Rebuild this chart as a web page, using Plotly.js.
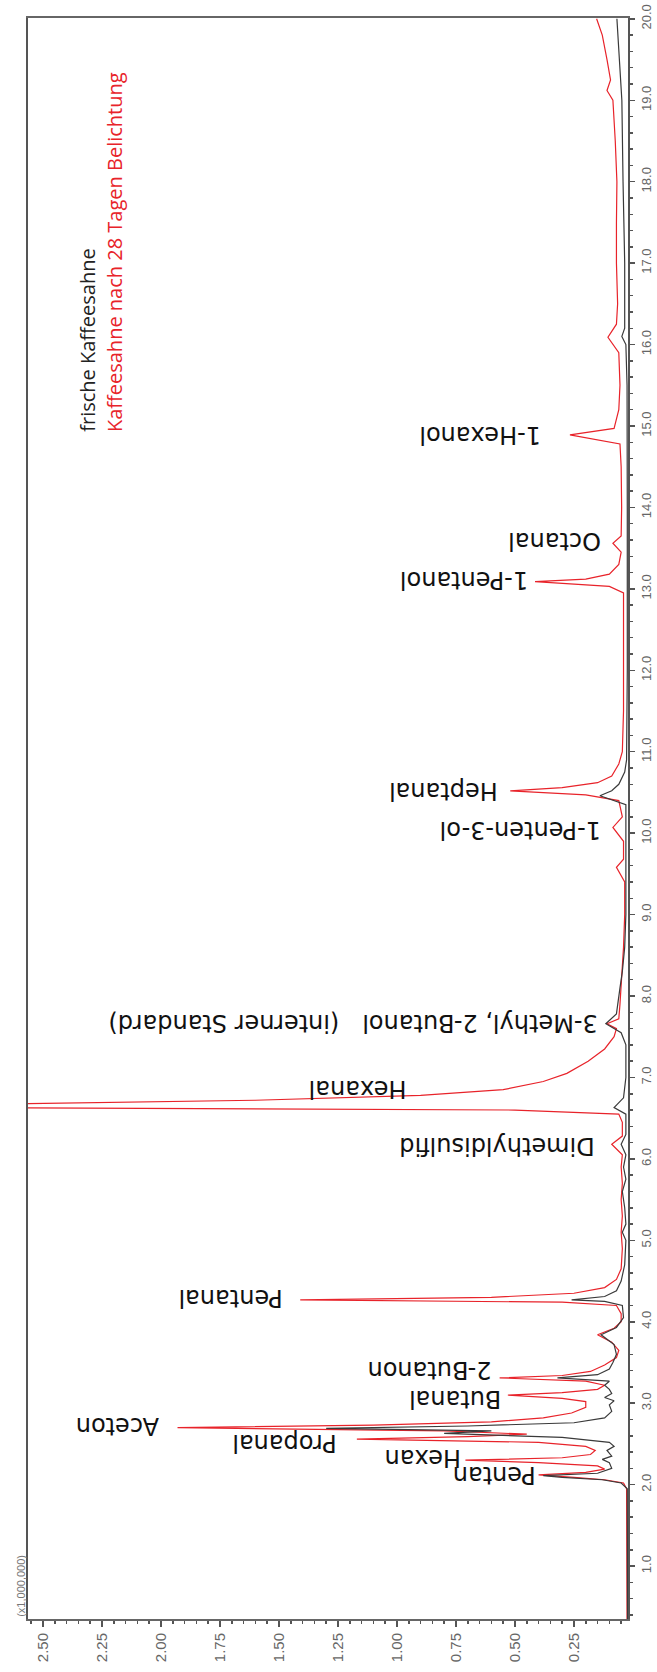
<!DOCTYPE html>
<html>
<head>
<meta charset="utf-8">
<script src="https://cdn.plot.ly/plotly-3.0.1.min.js"></script>
<style>
  html, body { margin: 0; padding: 0; background: #fff; }
  #chart { width: 657px; height: 1672px; }
</style>
</head>
<body>
<div id="chart"></div>
<script>
// GC chromatogram, read off the (rotated) picture
// time in min, signal in x1,000,000 counts

// frische Kaffeesahne (black)
var timeFresh = [0.35, 1.0, 1.95, 2.02, 2.06, 2.09, 2.11, 2.14, 2.2, 2.27, 2.31, 2.35, 2.42, 2.47, 2.52,
  2.58, 2.63, 2.66, 2.69, 2.72, 2.76, 2.82, 2.9, 2.98, 3.03, 3.07, 3.12, 3.17, 3.22, 3.27, 3.31,
  3.35, 3.42, 3.5, 3.6, 3.72, 3.84, 3.93, 4.05, 4.2, 4.25, 4.27, 4.31, 4.38, 4.5, 4.7, 5.0, 5.1,
  5.2, 5.4, 5.6, 5.75, 5.9, 6.05, 6.18, 6.3, 6.55, 6.63, 6.75, 7.0, 7.4, 7.55, 7.66, 7.78, 7.9,
  8.1, 8.3, 8.6, 9.0, 10.0, 10.35, 10.46, 10.52, 10.6, 10.75, 10.9, 12.0, 14.0, 15.5, 16.0, 16.1,
  16.2, 17.0, 18.0, 19.0, 20.0];
var signalFresh = [0.023, 0.023, 0.024, 0.05, 0.13, 0.3, 0.38, 0.15, 0.09, 0.1, 0.13, 0.09, 0.11, 0.08, 0.1,
  0.3, 0.8, 0.6, 1.3, 0.7, 0.25, 0.12, 0.09, 0.1, 0.08, 0.12, 0.09, 0.1, 0.12, 0.1, 0.32,
  0.15, 0.1, 0.085, 0.07, 0.08, 0.135, 0.07, 0.04, 0.045, 0.12, 0.26, 0.12, 0.07, 0.05, 0.035, 0.03, 0.045,
  0.03, 0.035, 0.045, 0.03, 0.04, 0.03, 0.05, 0.03, 0.03, 0.08, 0.04, 0.03, 0.03, 0.05, 0.115, 0.07, 0.065,
  0.055, 0.045, 0.035, 0.03, 0.028, 0.03, 0.14, 0.09, 0.06, 0.035, 0.027, 0.024, 0.024, 0.025, 0.03, 0.047,
  0.035, 0.035, 0.042, 0.047, 0.068];

// Kaffeesahne nach 28 Tagen Belichtung (red)
var timeAged = [0.35, 1.0, 1.5, 1.95, 2.02, 2.06, 2.09, 2.12, 2.15, 2.19, 2.23, 2.27, 2.3, 2.33, 2.37,
  2.42, 2.47, 2.52, 2.56, 2.59, 2.62, 2.66, 2.7, 2.73, 2.77, 2.82, 2.88, 2.95, 3.02, 3.06, 3.1,
  3.13, 3.17, 3.22, 3.27, 3.31, 3.34, 3.39, 3.47, 3.56, 3.65, 3.75, 3.84, 3.92, 4.0, 4.1, 4.2,
  4.24, 4.27, 4.3, 4.35, 4.42, 4.52, 4.65, 4.9, 5.1, 5.3, 5.5, 5.7, 5.9, 6.05, 6.18, 6.28, 6.45,
  6.55, 6.6, 6.64, 6.68, 6.72, 6.78, 6.85, 6.95, 7.05, 7.2, 7.35, 7.5, 7.6, 7.66, 7.72, 7.9, 8.1,
  8.3, 8.6, 9.0, 9.4, 9.58, 9.68, 9.9, 10.07, 10.2, 10.4, 10.47, 10.52, 10.56, 10.62, 10.7, 10.85,
  11.0, 11.5, 12.0, 12.5, 12.95, 13.03, 13.09, 13.12, 13.18, 13.3, 13.45, 13.56, 13.65, 14.0, 14.5,
  14.78, 14.85, 14.89, 14.97, 15.2, 15.5, 15.9, 16.09, 16.25, 16.5, 17.0, 17.5, 18.0, 18.5, 19.0,
  19.12, 19.25, 19.5, 19.8, 20.0];
var signalAged = [0.025, 0.026, 0.026, 0.027, 0.04, 0.12, 0.25, 0.4, 0.2, 0.12, 0.15, 0.4, 0.71, 0.3, 0.18,
  0.16, 0.2, 0.4, 1.17, 0.7, 0.45, 0.8, 1.93, 1.1, 0.6, 0.38, 0.26, 0.2, 0.2, 0.3, 0.53,
  0.3, 0.15, 0.12, 0.2, 0.565, 0.3, 0.18, 0.12, 0.07, 0.06, 0.09, 0.15, 0.08, 0.05, 0.05, 0.07,
  0.3, 1.41, 0.6, 0.25, 0.12, 0.07, 0.05, 0.045, 0.05, 0.045, 0.05, 0.045, 0.05, 0.045, 0.09, 0.045, 0.045,
  0.06, 0.5, 3.5, 2.6, 1.6, 0.9, 0.55, 0.38, 0.28, 0.19, 0.12, 0.08, 0.07, 0.11, 0.06, 0.055, 0.05,
  0.045, 0.04, 0.035, 0.035, 0.07, 0.04, 0.04, 0.085, 0.045, 0.06, 0.2, 0.52, 0.3, 0.15, 0.09, 0.06,
  0.045, 0.04, 0.04, 0.04, 0.04, 0.1, 0.415, 0.2, 0.1, 0.06, 0.05, 0.085, 0.05, 0.048, 0.05,
  0.055, 0.2, 0.267, 0.08, 0.06, 0.055, 0.06, 0.106, 0.07, 0.065, 0.07, 0.07, 0.068, 0.075, 0.085,
  0.11, 0.095, 0.11, 0.13, 0.154];

// peak names, with the spot where each (upside down) label ends next to its peak
var peakNames = ["Pentan", "Hexan", "Propanal", "Aceton", "Butanal", "2-Butanon", "Pentanal",
  "Dimethyldisulfid", "Hexanal", "3-Methyl, 2-Butanol   (interner Standard)", "1-Penten-3-ol",
  "Heptanal", "1-Pentanol", "Octanal", "1-Hexanol"];
var peakTimes = [2.11, 2.33, 2.51, 2.72, 3.05, 3.41, 4.29, 6.16, 6.85, 7.66, 10.03, 10.52, 13.1, 13.59, 14.89];
var labelEnds = [0.403, 0.72, 1.246, 2.0, 0.55, 0.59, 1.475, 0.153, 0.95, 0.14, 0.127, 0.564, 0.436, 0.127, 0.381];

var traces = [
  {
    x: signalAged, y: timeAged, type: "scatter", mode: "lines",
    name: "Kaffeesahne nach 28 Tagen Belichtung",
    line: { color: "#e8232a", width: 1.2 }
  },
  {
    x: signalFresh, y: timeFresh, type: "scatter", mode: "lines",
    name: "frische Kaffeesahne",
    line: { color: "#3a3a3a", width: 1.2 }
  }
];

var annotations = [];
for (var i = 0; i < peakNames.length; i++) {
  annotations.push({
    x: labelEnds[i], y: peakTimes[i], xref: "x", yref: "y",
    text: peakNames[i], showarrow: false, textangle: 180,
    xanchor: "right", yanchor: "middle",
    font: { family: "DejaVu Sans", size: 24, color: "#111" }
  });
}

// legend texts, written sideways like the rest of the original chart
annotations.push({
  x: 0.1, y: 0.74, xref: "paper", yref: "paper",
  text: "frische Kaffeesahne", showarrow: false, textangle: -90,
  xanchor: "center", yanchor: "bottom",
  font: { family: "Open Sans", size: 20, color: "#222" }
});
annotations.push({
  x: 0.143, y: 0.74, xref: "paper", yref: "paper",
  text: "Kaffeesahne nach 28 Tagen Belichtung", showarrow: false, textangle: -90,
  xanchor: "center", yanchor: "bottom",
  font: { family: "Open Sans", size: 20, color: "#e8232a" }
});
annotations.push({
  x: -0.012, y: 0, xref: "paper", yref: "paper",
  text: "(x1,000,000)", showarrow: false, textangle: -90,
  xanchor: "center", yanchor: "bottom",
  font: { family: "Liberation Sans", size: 11, color: "#777" }
});

var layout = {
  width: 657,
  height: 1672,
  margin: { l: 28, r: 29, t: 18, b: 53 },
  paper_bgcolor: "#fff",
  plot_bgcolor: "#fff",
  showlegend: false,
  xaxis: {
    range: [2.5636, 0.021],
    tick0: 0, dtick: 0.25, tickformat: ".2f",
    tickangle: -90,
    ticks: "outside", ticklen: 6, tickcolor: "#555", tickwidth: 1.5,
    minor: { dtick: 0.05, ticks: "outside", ticklen: 3, tickcolor: "#555" },
    showgrid: false, zeroline: false,
    showline: true, linecolor: "#666", linewidth: 2, mirror: true,
    tickfont: { family: "Liberation Sans", size: 15, color: "#666" }
  },
  yaxis: {
    side: "right",
    range: [0.35, 20.01],
    tick0: 0, dtick: 1, tickformat: ".1f",
    tickangle: -90,
    ticks: "outside", ticklen: 5, tickcolor: "#555", tickwidth: 1.5,
    minor: { dtick: 0.2, ticks: "outside", ticklen: 3, tickcolor: "#555" },
    showgrid: false, zeroline: false,
    showline: true, linecolor: "#555", linewidth: 2, mirror: true,
    tickfont: { family: "Liberation Sans", size: 13, color: "#666" }
  },
  annotations: annotations
};

Plotly.newPlot("chart", traces, layout, { displayModeBar: false, staticPlot: true });
</script>
</body>
</html>
